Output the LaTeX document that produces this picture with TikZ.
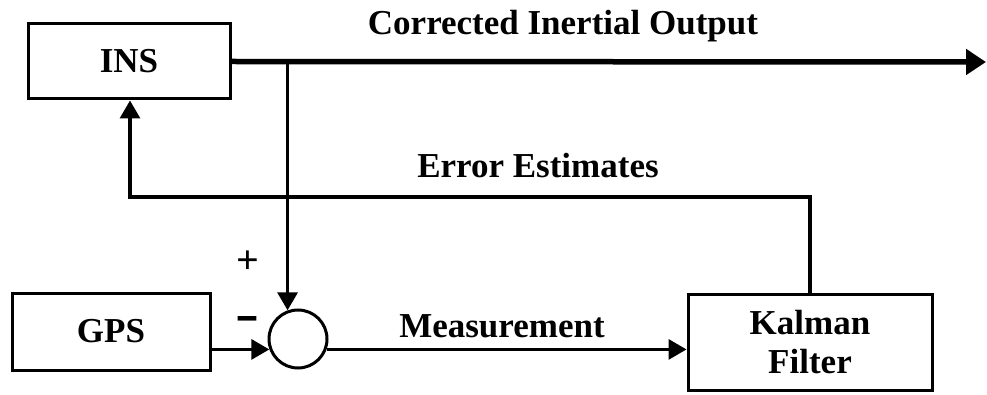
\documentclass[tikz,border=0pt]{standalone}
\usepackage{fontspec}
\setmainfont{Liberation Serif}
\usetikzlibrary{arrows.meta,calc}
\begin{document}
\begin{tikzpicture}[x=1pt,y=-1pt,
  blk/.style={draw,line width=3pt,minimum width=#1,inner sep=0pt,font=\fontsize{35}{39}\selectfont\bfseries,align=center},
  lbl/.style={anchor=base,inner sep=0pt,font=\fontsize{35}{39}\selectfont\bfseries},
  wire/.style={line width=3.2pt},
  arr/.style={wire,-{Triangle[length=18pt,width=20pt]}}]
\useasboundingbox (0,0) rectangle (987,395);
\node[blk=202pt,minimum height=75pt] (ins) at (129,61.5) {INS};
\node[blk=198pt,minimum height=77pt] (gps) at (111,331.5) {GPS};
\node[blk=244pt,minimum height=96pt] (kf) at (810,342) {Kalman\\Filter};
\node[draw,circle,line width=3pt,minimum size=58pt,inner sep=0pt] (sum) at (298,339) {};
\coordinate (out) at (986,62);
\coordinate (tap) at (sum.110 |- ins.east);
\coordinate (fbl) at (130,197);
\draw[line width=5.5pt,-{Triangle[length=20pt,width=25pt]}] (ins.east) -- (out);
\draw[arr] (tap) -- (sum.110);
\draw[arr] (gps.east |- sum.200) -- (sum.200);
\draw[arr] (sum.-20) -- (sum.-20 -| kf.west);
\draw[arr] (kf.north) |- (fbl) -- (fbl |- ins.south);
\node[lbl] (lout) at (563,35) {Corrected Inertial Output};
\node[lbl] (lerr) at (538,178) {Error Estimates};
\node[lbl] (lmeas) at (502,337) {Measurement};
\node[inner sep=0pt,font=\fontsize{40}{40}\selectfont\bfseries] (plus) at (248,262) {+};
\node[anchor=base,inner sep=0pt,font=\fontsize{30}{30}\selectfont\bfseries] (minus) at (247,331) {\scalebox{2.4}[1.8]{-}};
\end{tikzpicture}
\end{document}
